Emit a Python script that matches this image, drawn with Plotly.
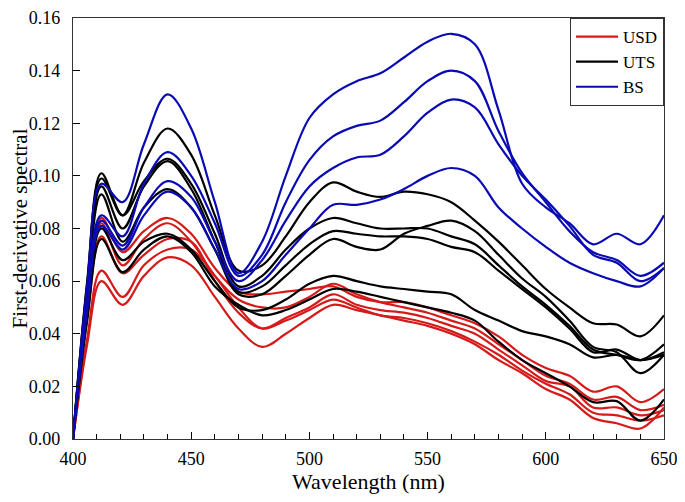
import plotly.graph_objects as go

# wavelength grid (nm)
wavelength = [400, 406, 412, 421, 430, 440, 450, 460, 470, 480, 490, 500, 510, 520,
              530, 540, 550, 560, 570, 580, 590, 600, 610, 620, 630, 640, 650]

x_ticks = [400, 450, 500, 550, 600, 650]
y_ticks = [0.00, 0.02, 0.04, 0.06, 0.08, 0.10, 0.12, 0.14, 0.16]

# USD samples (red)
usd_1 = [0, 0.050, 0.084, 0.071, 0.079, 0.084, 0.078, 0.065, 0.056, 0.055, 0.056, 0.057, 0.058, 0.054,
         0.052, 0.052, 0.050, 0.047, 0.044, 0.039, 0.032, 0.027, 0.024, 0.018, 0.020, 0.014, 0.019]
usd_2 = [0, 0.049, 0.082, 0.066, 0.076, 0.082, 0.075, 0.062, 0.053, 0.050, 0.050, 0.054, 0.059, 0.055,
         0.052, 0.050, 0.048, 0.045, 0.042, 0.036, 0.030, 0.024, 0.021, 0.015, 0.016, 0.011, 0.013]
usd_3 = [0, 0.046, 0.077, 0.063, 0.070, 0.076, 0.075, 0.060, 0.048, 0.042, 0.046, 0.050, 0.055, 0.051,
         0.049, 0.048, 0.046, 0.043, 0.040, 0.034, 0.028, 0.022, 0.020, 0.012, 0.012, 0.009, 0.011]
usd_4 = [0, 0.038, 0.064, 0.054, 0.066, 0.072, 0.072, 0.062, 0.050, 0.042, 0.045, 0.049, 0.053, 0.050,
         0.047, 0.046, 0.044, 0.041, 0.037, 0.032, 0.026, 0.021, 0.017, 0.010, 0.009, 0.007, 0.009]
usd_5 = [0, 0.036, 0.060, 0.051, 0.062, 0.069, 0.066, 0.054, 0.042, 0.035, 0.040, 0.046, 0.051, 0.049,
         0.047, 0.045, 0.043, 0.040, 0.036, 0.030, 0.025, 0.019, 0.015, 0.008, 0.006, 0.004, 0.012]

# UTS samples (black)
uts_1 = [0, 0.060, 0.101, 0.085, 0.105, 0.118, 0.108, 0.085, 0.064, 0.066, 0.077, 0.090, 0.0975, 0.094,
         0.092, 0.094, 0.093, 0.090, 0.083, 0.075, 0.066, 0.057, 0.050, 0.044, 0.0435, 0.039, 0.047]
uts_2 = [0, 0.059, 0.099, 0.085, 0.098, 0.1065, 0.097, 0.078, 0.058, 0.062, 0.072, 0.080, 0.084, 0.082,
         0.080, 0.080, 0.080, 0.077, 0.074, 0.066, 0.058, 0.051, 0.043, 0.034, 0.032, 0.030, 0.036]
uts_3 = [0, 0.057, 0.096, 0.080, 0.096, 0.1056, 0.095, 0.075, 0.056, 0.058, 0.066, 0.074, 0.079, 0.078,
         0.077, 0.077, 0.076, 0.073, 0.071, 0.064, 0.057, 0.050, 0.042, 0.033, 0.034, 0.030, 0.033]
uts_4 = [0, 0.055, 0.093, 0.075, 0.088, 0.095, 0.088, 0.072, 0.055, 0.055, 0.062, 0.070, 0.076, 0.073,
         0.072, 0.078, 0.081, 0.083, 0.079, 0.070, 0.061, 0.054, 0.045, 0.035, 0.033, 0.025, 0.032]
uts_5 = [0, 0.048, 0.080, 0.068, 0.075, 0.078, 0.072, 0.060, 0.050, 0.049, 0.053, 0.059, 0.062, 0.060,
         0.058, 0.057, 0.056, 0.055, 0.049, 0.045, 0.041, 0.039, 0.036, 0.031, 0.032, 0.030, 0.032]
uts_6 = [0, 0.045, 0.076, 0.0634, 0.072, 0.077, 0.071, 0.058, 0.051, 0.047, 0.049, 0.053, 0.057, 0.056,
         0.054, 0.052, 0.050, 0.048, 0.045, 0.037, 0.030, 0.025, 0.020, 0.014, 0.0144, 0.007, 0.015]

# BS samples (blue)
bs_1 = [0, 0.058, 0.097, 0.090, 0.112, 0.131, 0.118, 0.090, 0.063, 0.075, 0.100, 0.122, 0.131, 0.136,
        0.139, 0.145, 0.151, 0.154, 0.150, 0.125, 0.097, 0.088, 0.082, 0.074, 0.078, 0.074, 0.085]
bs_2 = [0, 0.051, 0.085, 0.077, 0.097, 0.109, 0.100, 0.082, 0.062, 0.070, 0.090, 0.106, 0.115, 0.119,
        0.121, 0.128, 0.136, 0.140, 0.136, 0.117, 0.101, 0.090, 0.079, 0.071, 0.068, 0.062, 0.067]
bs_3 = [0, 0.050, 0.083, 0.0735, 0.088, 0.098, 0.092, 0.075, 0.060, 0.068, 0.083, 0.096, 0.103, 0.107,
        0.108, 0.115, 0.124, 0.129, 0.126, 0.112, 0.100, 0.091, 0.081, 0.070, 0.067, 0.060, 0.065]
bs_4 = [0, 0.049, 0.081, 0.072, 0.085, 0.094, 0.088, 0.072, 0.057, 0.060, 0.070, 0.080, 0.089, 0.089,
        0.091, 0.095, 0.100, 0.103, 0.100, 0.088, 0.080, 0.073, 0.067, 0.063, 0.060, 0.058, 0.065]

groups = [
    ("USD", "#d61a1a", [usd_1, usd_2, usd_3, usd_4, usd_5]),
    ("UTS", "#000000", [uts_1, uts_2, uts_3, uts_4, uts_5, uts_6]),
    ("BS", "#0a0ab4", [bs_1, bs_2, bs_3, bs_4]),
]

fig = go.Figure()
for name, color, curves in groups:
    for i, values in enumerate(curves):
        fig.add_trace(go.Scatter(
            x=wavelength, y=values, mode="lines", name=name,
            line=dict(color=color, width=2.2, shape="spline", smoothing=1.0),
            legendgroup=name, showlegend=(i == 0),
        ))

# the page body adds an 8px margin, so the figure is a bit smaller than the window
font_family = "Liberation Serif, Times New Roman, serif"
fig.update_layout(
    width=677, height=494,
    margin=dict(l=65, r=21, t=10, b=63),
    paper_bgcolor="white", plot_bgcolor="white",
    font=dict(family=font_family, size=18, color="black"),
    legend=dict(x=1, y=1, xanchor="right", yanchor="top",
                bordercolor="#333333", borderwidth=1, bgcolor="white",
                font=dict(size=17), tracegroupgap=0, itemwidth=42),
    xaxis=dict(range=[400, 650], tickvals=x_ticks,
               ticks="inside", ticklen=7, tickcolor="black", automargin=False,
               ticklabelstandoff=3, ticklabeloverflow="allow",
               minor=dict(dtick=10, ticks="inside", ticklen=5, tickcolor="black"),
               showline=True, linecolor="#333333", linewidth=1.2, mirror=True,
               showgrid=False, zeroline=False,
               title=dict(text="Wavelength (nm)", standoff=2)),
    yaxis=dict(range=[0, 0.16], tickvals=y_ticks, tickformat=".2f",
               ticks="inside", ticklen=7, tickcolor="black", automargin=False,
               ticklabelstandoff=8, ticklabeloverflow="allow",
               showline=True, linecolor="#333333", linewidth=1.2, mirror=True,
               showgrid=False, zeroline=False,
               title=dict(text="First-derivative spectral", standoff=11,
                          font=dict(size=21))),
)

fig.write_html("out.html")
